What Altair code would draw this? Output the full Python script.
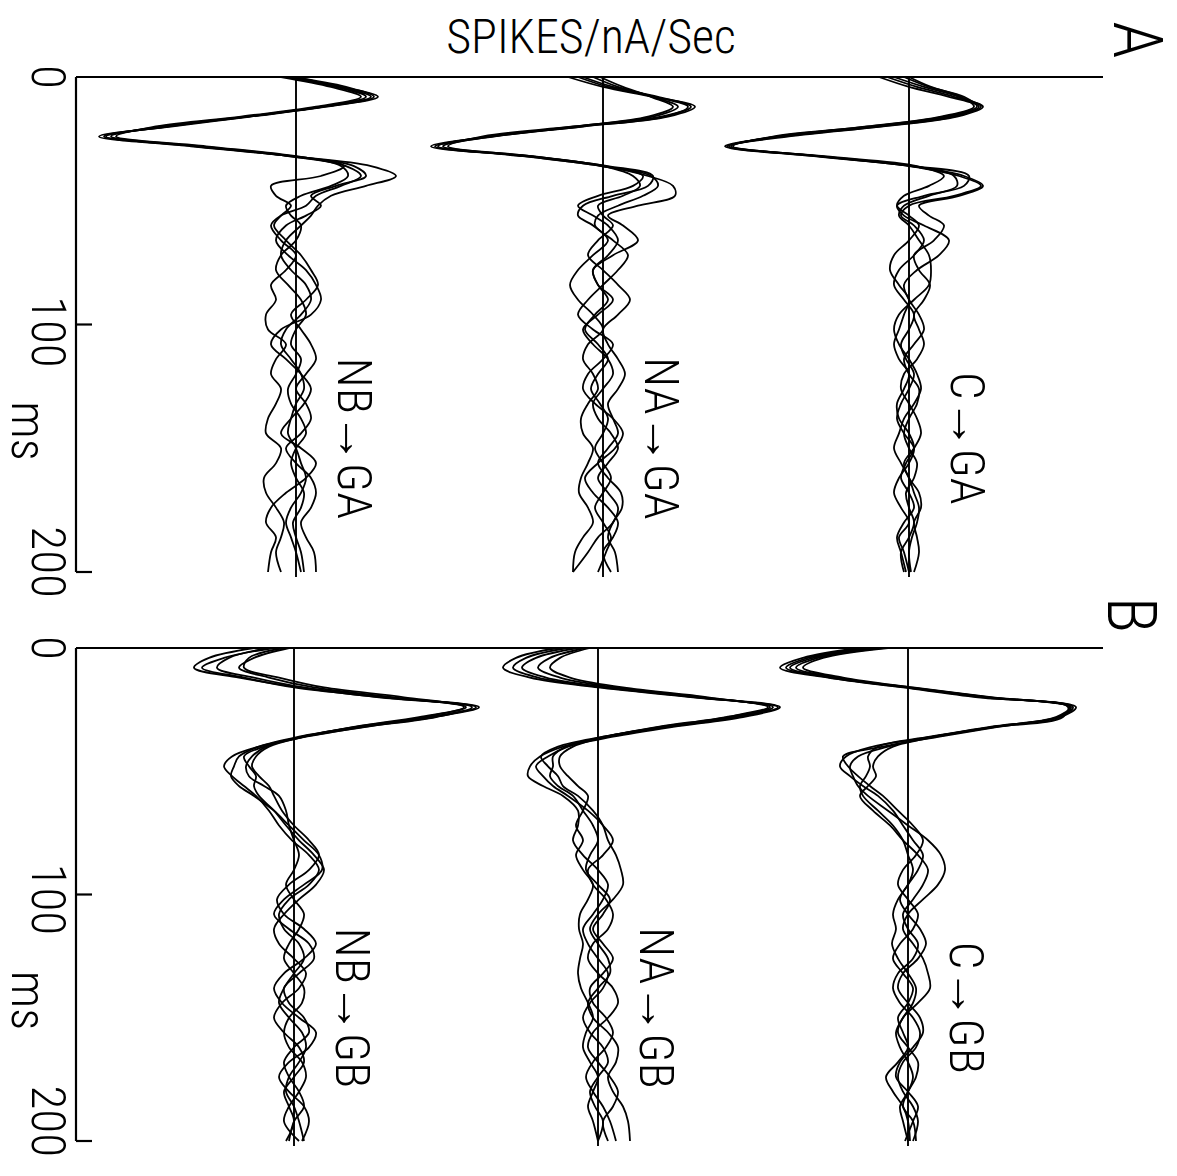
import altair as alt
import pandas as pd

# Sample times (ms after stimulus onset)
TIME_MS = [0, 4, 8, 12, 16, 20, 24, 28, 32, 36, 40, 44, 48, 52, 56, 60,
           66, 72, 78, 84, 90, 96, 102, 108, 114, 120, 126, 132, 138, 144,
           150, 156, 162, 168, 174, 180, 186, 192, 200]

GROUPS_A = ["NB→GA", "NA→GA", "C→GA"]
GROUPS_B = ["NB→GB", "NA→GB", "C→GB"]

# Response functions (spikes/nA/sec, arbitrary scale), five cells per pathway
NB_GA = [
    [-10, 45, 82, 30, -45, -125, -197, -105, -5, 75, 100, 70, 35, 22, 15, 5,
     -10, -15, -5, 10, 15, 5, -10, -15, -5, 5, 8, 0, -5, -8, 0, 5, 10, 5, -5, -10, -5, 0, 5],
    [-5, 50, 78, 28, -48, -130, -190, -100, -8, 50, 65, 45, 20, 10, -15, -25,
     -15, 0, -10, -25, -20, -30, -28, -10, -20, -25, -15, -20, -28, -30, -15, -20, -32, -30, -20, -12, -15, -20, -15],
    [0, 40, 70, 25, -50, -135, -185, -95, -5, 48, 25, -25, -20, -5, -15, -22,
     -10, 5, 15, 22, 10, -5, 5, 15, 20, 10, 0, 10, 15, 5, -10, 0, 15, 20, 15, 5, 10, 18, 20],
    [-15, 35, 65, 20, -55, -140, -180, -90, 0, 45, 52, 35, 5, -10, -5, 5,
     0, -15, -20, -8, 5, 10, 0, -5, 5, 0, -8, -5, 5, 10, 0, -5, 0, 8, 5, -3, 0, 5, 8],
    [-8, 42, 75, 27, -50, -128, -192, -98, -3, 58, 70, 40, 15, 25, 10, -10,
     -20, -8, 10, 20, 25, 15, -15, -25, -10, 5, 15, 8, -5, -15, 5, 20, 10, -10, -25, -30, -20, -25, -28],
]
NA_GA = [
    [-35, 0, 50, 92, 65, -20, -110, -172, -80, 0, 45, 70, 72, 35, 5, 20,
     35, 10, -10, -5, 10, -5, -20, -10, 5, 10, 0, -10, -5, 8, 15, 5, -5, 5, 15, 10, -5, -15, -30],
    [-20, 10, 55, 88, 58, -25, -115, -165, -75, 5, 50, 45, 10, -20, -25, -10,
     5, -10, -25, -33, -25, -10, 0, -15, -20, -10, -5, -15, -22, -20, -10, -15, -22, -24, -15, -10, -20, -28, -30],
    [-10, 15, 50, 75, 50, -30, -120, -155, -70, 0, 30, 37, 20, -5, 0, 10,
     -5, -15, 0, 15, 27, 15, 0, 5, 15, 22, 15, 5, 10, 15, 5, -5, 5, 18, 19, 10, 5, 12, 15],
    [-3, 20, 48, 70, 45, -28, -112, -160, -72, 2, 40, 30, -5, -25, -10, 5,
     15, 5, -10, -5, 5, -8, -18, -5, 5, -5, -12, -3, 5, 0, -8, 0, 8, 0, -8, 0, 8, 3, -5],
    [-25, 5, 52, 85, 62, -22, -108, -168, -78, -2, 48, 55, 40, 15, -5, -8,
     10, 25, 15, 0, -15, -25, -10, 10, 0, -15, -20, -8, 10, 20, 12, -5, -18, -10, 5, 15, 10, 0, 8],
]
C_GA = [
    [-30, 0, 40, 70, 45, -30, -125, -184, -95, 0, 50, 72, 45, 0, -8, 5,
     15, 5, -10, -15, -5, 5, 0, -8, -3, 5, 0, -8, -12, -5, 5, 0, -10, -15, -8, 0, -10, -5, 0],
    [-15, 15, 50, 72, 40, -35, -130, -180, -90, 5, 60, 55, 15, -12, -5, 15,
     40, 30, 8, -5, 0, 10, 15, 5, -5, 0, 10, 8, 0, -5, 0, 8, 5, -3, 0, 5, 0, -8, -5],
    [-5, 20, 55, 68, 35, -40, -135, -176, -88, 3, 45, 48, 20, -5, -10, 0,
     10, 20, 22, 20, 5, -10, -15, -10, 0, 8, 12, 5, -5, -10, -15, -8, 0, 5, 10, 8, 3, 0, 2],
    [0, 22, 52, 65, 32, -42, -132, -178, -85, 8, 35, 20, -5, -12, 0, 10,
     0, -15, -19, -10, 0, -5, -10, -15, -10, 0, -5, -12, -10, 0, 5, -3, -8, 0, 5, -5, -12, -8, -3],
    [-22, 8, 45, 74, 48, -28, -120, -182, -92, 2, 55, 74, 50, 10, 20, 35,
     25, 5, 10, 21, 15, 5, 10, 15, 8, -5, -8, 0, 8, 12, 5, -5, 0, 10, 12, 5, 8, 10, 5],
]
NB_GB = [
    [-40, -85, -100, -55, 5, 85, 185, 140, 70, 10, -35, -62, -70, -62, -50, -38,
     -25, -15, -2, 15, 25, 15, -5, -15, -10, 5, 10, 0, -10, -15, -5, 8, 12, 5, -5, -8, 0, 5, 10],
    [-25, -65, -77, -40, 10, 95, 182, 135, 65, 5, -35, -55, -60, -63, -55, -40,
     -20, -5, 10, 25, 28, 10, -10, -20, -5, 15, 20, 5, -10, -5, 10, 15, 0, -10, -5, 5, 10, 0, -5],
    [-10, -45, -50, -15, 30, 110, 172, 125, 60, 10, -25, -38, -42, -35, -25, -20,
     -12, 0, 15, 25, 15, -5, -17, -10, 10, 22, 10, -10, -20, -12, 5, 22, 15, -5, -15, -5, 10, 15, 8],
    [-20, -70, -92, -50, 0, 88, 178, 142, 72, 12, -30, -50, -45, -38, -40, -35,
     -20, -8, 5, 20, 30, 22, 5, -10, -20, -15, 0, 12, 5, -12, -20, -10, 5, 10, 0, -10, -5, 0, -8],
    [-5, -40, -55, -25, 20, 100, 170, 130, 62, 8, -28, -42, -48, -45, -30, -15,
     -8, -5, 0, 5, 0, -8, 0, 10, 5, -5, -10, 0, 10, 8, -5, -10, -5, 8, 12, 5, -5, -10, 5],
]
NA_GB = [
    [-40, -82, -95, -68, 0, 95, 180, 140, 70, 10, -35, -58, -68, -70, -55, -35,
     -20, -20, -25, -15, 0, 10, 5, -5, -15, -10, 0, 10, 5, -8, -15, -8, 5, 10, 0, -8, -3, 5, 0],
    [-20, -62, -76, -52, 10, 100, 175, 135, 65, 5, -40, -57, -50, -40, -35, -20,
     -5, 5, 10, 18, 23, 25, 15, 0, -8, 0, 10, 12, 0, -10, -5, 10, 20, 18, 10, 15, 25, 30, 32],
    [-8, -38, -48, -28, 25, 110, 170, 128, 60, 8, -25, -38, -38, -30, -20, -10,
     -15, -22, -15, -22, -15, -5, -10, -18, -19, -15, -18, -20, -17, -10, -5, -12, -15, -8, 0, -5, -10, -5, 0],
    [-30, -72, -85, -60, 5, 98, 182, 145, 75, 15, -30, -50, -62, -55, -45, -30,
     -10, 5, 15, 5, -10, -5, 8, 15, 10, -5, -10, 0, 15, 20, 10, -5, -10, 0, 12, 20, 15, 5, 10],
    [-12, -48, -60, -38, 18, 105, 172, 130, 62, 6, -32, -45, -45, -48, -40, -25,
     -15, -5, 0, -8, -12, 0, 12, 5, -5, 5, 15, 5, -8, -5, 8, 15, 8, -5, -12, -5, 5, 12, 18],
]
C_GB = [
    [-50, -105, -128, -80, -5, 70, 160, 155, 90, 30, -25, -65, -60, -50, -38, -25,
     -10, 5, 15, 8, -5, -10, 0, 10, 5, -8, -15, -5, 5, 0, -10, -5, 0, -10, -22, -15, -5, 0, 2],
    [-30, -95, -118, -75, 0, 80, 165, 150, 85, 25, -20, -50, -58, -55, -50, -40,
     -20, 0, 20, 33, 37, 30, 15, 0, -5, 5, 15, 20, 22, 10, -5, -10, 0, 10, 8, 0, -5, 5, 8],
    [-20, -85, -105, -65, 5, 85, 162, 148, 82, 22, -30, -40, -38, -42, -48, -45,
     -30, -15, -5, 0, 5, 0, -10, -15, -12, -16, -10, 0, 8, 5, -5, -12, -8, 0, 5, 0, -8, -5, 0],
    [-40, -100, -122, -78, -2, 75, 163, 152, 88, 28, -15, -30, -35, -32, -40, -48,
     -35, -18, -5, 10, 20, 15, 5, -5, 0, 10, 5, -10, -15, -8, 5, 12, 8, -5, -10, -5, 5, 10, 5],
    [-25, -90, -112, -70, 2, 82, 168, 152, 85, 25, -35, -62, -68, -58, -45, -30,
     -15, -5, 5, 15, 10, 0, -8, 0, 12, 18, 10, -5, -10, 0, 12, 15, 5, -8, -12, 0, 10, 5, -3],
]

TICK_MS = [0, 100, 200]
TICK_TEXT = ["0", "100", "200"]

# ---- layout ----
W, H = 1177, 1176
FONT = "Roboto Condensed, Roboto, Liberation Sans, sans-serif"
WEIGHT = 300
AXIS_X = 76
FRAME_RIGHT = 1103
Y_RANGE = {"A": [77, 572], "B": [648, 1141]}
BASE_X = {"A": [296, 603, 909], "B": [294, 598, 908]}
LABEL_MS = {"A": [0, 103, 196], "B": [0, 102, 192]}
XS = alt.Scale(domain=[0, W], range=[0, W], nice=False, zero=False)

PANELS = {"A": (GROUPS_A, [NB_GA, NA_GA, C_GA]),
          "B": (GROUPS_B, [NB_GB, NA_GB, C_GB])}


def ys(p):
    return alt.Scale(domain=[0, 200], range=Y_RANGE[p], nice=False, zero=False)


def txt(size, **kw):
    return dict(font=FONT, fontWeight=WEIGHT, fontSize=size, color="black", **kw)


def panel(p):
    groups, series = PANELS[p]
    rows = []
    for g, base, cells in zip(groups, BASE_X[p], series):
        for k, vals in enumerate(cells):
            for t, v in zip(TIME_MS, vals):
                rows.append({"group": g, "cell": f"{g}-{k}", "t": t,
                             "rate": v, "base": base})
    df = pd.DataFrame(rows)
    y = ys(p)

    traces = alt.Chart(df).mark_line(
        interpolate="catmull-rom", color="black", strokeWidth=1.8
    ).transform_calculate(xpos="datum.base + datum.rate").encode(
        x=alt.X("xpos:Q", scale=XS, axis=None),
        y=alt.Y("t:Q", scale=y, axis=None),
        detail="cell:N",
        order="t:Q",
    )

    zero_lines = alt.Chart(pd.DataFrame({"base": BASE_X[p], "t0": 0, "t1": 202})).mark_rule(
        color="black", strokeWidth=1.9
    ).encode(
        x=alt.X("base:Q", scale=XS, axis=None),
        y=alt.Y("t0:Q", scale=y, axis=None),
        y2="t1:Q",
    )

    top_line = alt.Chart(pd.DataFrame({"t": [0]})).mark_rule(
        color="black", strokeWidth=2.2
    ).encode(
        x=alt.X(datum=AXIS_X, scale=XS, axis=None),
        x2=alt.X2(datum=FRAME_RIGHT),
        y=alt.Y("t:Q", scale=y, axis=None),
    )

    time_axis = alt.Chart(pd.DataFrame({"t0": [0], "t1": [200]})).mark_rule(
        color="black", strokeWidth=2.2
    ).encode(
        x=alt.X(datum=AXIS_X, scale=XS, axis=None),
        y=alt.Y("t0:Q", scale=y, axis=None),
        y2="t1:Q",
    )

    ticks = alt.Chart(pd.DataFrame({"t": TICK_MS[1:]})).mark_rule(
        color="black", strokeWidth=2.2
    ).encode(
        x=alt.X(datum=AXIS_X, scale=XS, axis=None),
        x2=alt.X2(datum=AXIS_X + 16),
        y=alt.Y("t:Q", scale=y, axis=None),
    )

    tick_labels = alt.Chart(pd.DataFrame({"label": TICK_TEXT, "at": LABEL_MS[p]})).mark_text(
        angle=90, align="center", baseline="alphabetic", **txt(49)
    ).encode(
        x=alt.X(datum=32, scale=XS, axis=None),
        y=alt.Y("at:Q", scale=y, axis=None),
        text="label:N",
    )

    unit = alt.Chart(pd.DataFrame({"label": ["ms"], "at": [143]})).mark_text(
        angle=90, align="center", baseline="alphabetic", **txt(49)
    ).encode(
        x=alt.X(datum=12, scale=XS, axis=None),
        y=alt.Y("at:Q", scale=y, axis=None),
        text="label:N",
    )

    group_labels = alt.Chart(pd.DataFrame({"label": groups, "base": BASE_X[p], "at": 146})).mark_text(
        angle=90, align="center", baseline="alphabetic", **txt(49)
    ).transform_calculate(xl="datum.base + 42").encode(
        x=alt.X("xl:Q", scale=XS, axis=None),
        y=alt.Y("at:Q", scale=y, axis=None),
        text="label:N",
    )

    return alt.layer(zero_lines, top_line, time_axis, ticks, traces,
                     tick_labels, unit, group_labels)


one = pd.DataFrame({"k": [0]})
title = alt.Chart(one).mark_text(
    text="SPIKES/nA/Sec", align="center", baseline="alphabetic", **txt(48)
).encode(x=alt.value(591), y=alt.value(53))

letter_a = alt.Chart(one).mark_text(
    text="A", angle=90, align="center", baseline="alphabetic", **txt(68)
).encode(x=alt.value(1114), y=alt.value(40))

letter_b = alt.Chart(one).mark_text(
    text="B", angle=90, align="center", baseline="alphabetic", **txt(68)
).encode(x=alt.value(1108), y=alt.value(615))

chart = alt.layer(panel("A"), panel("B"), title, letter_a, letter_b).resolve_scale(
    y="independent"
).properties(
    width=W, height=H, padding=0, autosize="none", background="white"
).configure_view(stroke=None)

chart.save("out.html", embed_options={"renderer": "svg", "actions": False})
